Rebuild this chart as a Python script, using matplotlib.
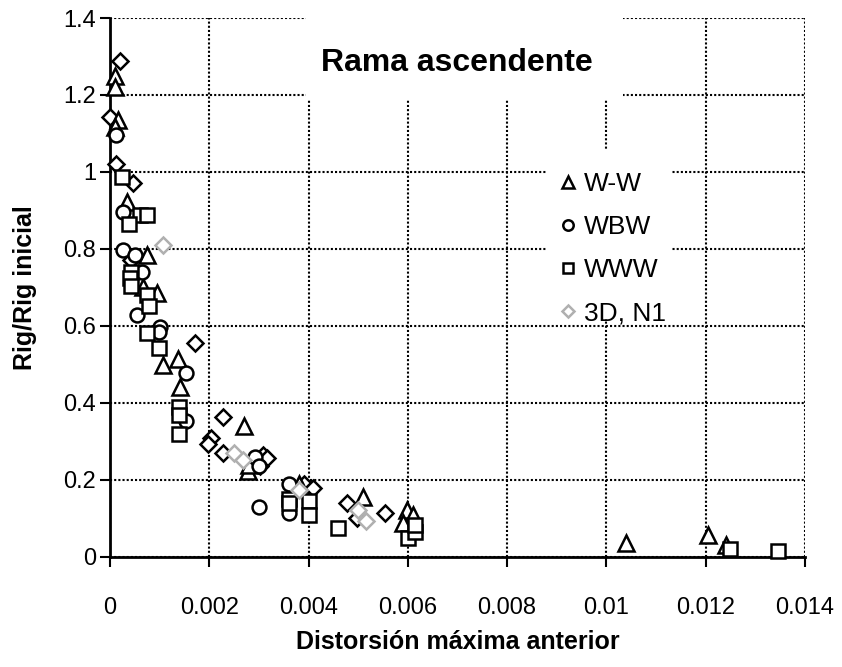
import numpy as np
import matplotlib
matplotlib.use('Agg')
import matplotlib.pyplot as plt
from matplotlib.patches import Rectangle
from matplotlib.ticker import FuncFormatter

plt.rcParams['font.family'] = ['Liberation Sans', 'DejaVu Sans']

# W-W (triangles)
ww_x = [0.0001, 0.0001, 0.00016, 0.0001, 0.00034, 0.00074, 0.00067, 0.00095, 0.00106,
        0.00138, 0.00142, 0.0027, 0.00279, 0.0028, 0.0038, 0.0051, 0.00598, 0.0061,
        0.0059, 0.0104, 0.01204, 0.0124]
ww_y = [1.25, 1.22, 1.135, 1.118, 0.923, 0.784, 0.702, 0.685, 0.499,
        0.513, 0.442, 0.34, 0.222, 0.24, 0.19, 0.157, 0.122, 0.109,
        0.089, 0.036, 0.057, 0.031]

# WBW (circles)
wbw_x = [0.00012, 0.00026, 0.00027, 0.0005, 0.00064, 0.00054, 0.001, 0.00099,
         0.00153, 0.00153, 0.00292, 0.003, 0.003, 0.0036, 0.0036]
wbw_y = [1.096, 0.897, 0.797, 0.784, 0.741, 0.629, 0.598, 0.585,
         0.477, 0.353, 0.26, 0.235, 0.13, 0.19, 0.115]

# WWW (squares)
www_x = [0.00025, 0.0006, 0.00074, 0.00039, 0.00042, 0.0004, 0.00042, 0.00074,
         0.00079, 0.00074, 0.00099, 0.0014, 0.0014, 0.0014, 0.0036, 0.0036,
         0.004, 0.004, 0.0046, 0.006, 0.00614, 0.00614, 0.0125, 0.01345]
www_y = [0.988, 0.888, 0.888, 0.865, 0.741, 0.725, 0.704, 0.681,
         0.652, 0.581, 0.542, 0.39, 0.37, 0.32, 0.15, 0.14,
         0.145, 0.11, 0.075, 0.049, 0.066, 0.083, 0.021, 0.016]

# 3D, N1 (light markers)
n1_x = [0.00107, 0.0025, 0.00268, 0.0038, 0.005, 0.00516]
n1_y = [0.81, 0.271, 0.252, 0.175, 0.122, 0.094]

# other series (diamonds, not in legend)
dia_x = [0.0002, 0.0, 0.00012, 0.00047, 0.00042, 0.00171, 0.00227, 0.00203,
         0.00198, 0.00227, 0.00309, 0.00317, 0.00302, 0.0039, 0.0041,
         0.00477, 0.00497, 0.00554]
dia_y = [1.289, 1.144, 1.021, 0.971, 0.771, 0.557, 0.364, 0.308,
         0.293, 0.271, 0.265, 0.256, 0.235, 0.19, 0.18,
         0.139, 0.1, 0.113]

fig = plt.figure(figsize=(8.42, 6.67), dpi=100)
ax = fig.add_axes([0.1306, 0.165, 0.8254, 0.808])

ax.set_xlim(0, 0.014)
ax.set_ylim(0, 1.4)
ax.set_xticks(np.arange(0, 0.0141, 0.002))
ax.set_yticks(np.arange(0, 1.41, 0.2))
ax.xaxis.set_major_formatter(FuncFormatter(lambda v, p: '%g' % round(v, 4)))
ax.yaxis.set_major_formatter(FuncFormatter(lambda v, p: '%g' % round(v, 2)))

ax.set_axisbelow(True)
ax.grid(True, color='black', linestyle=(0, (1, 1)), linewidth=1.5)
for s in ['top', 'right']:
    ax.spines[s].set_visible(False)
for s in ['left', 'bottom']:
    ax.spines[s].set_linewidth(2)
ax.tick_params(direction='out', length=7, width=1.5, labelsize=17)
ax.tick_params(axis='x', pad=22)
ax.tick_params(axis='y', pad=3)

# white boxes behind the title and the legend
ax.add_patch(Rectangle((0.2815, 0.85), 0.457, 0.15, transform=ax.transAxes,
                       facecolor='white', edgecolor='none', zorder=1))
ax.add_patch(Rectangle((0.629, 0.441), 0.18, 0.314, transform=ax.transAxes,
                       facecolor='white', edgecolor='none', zorder=1))
ax.text(0.00699, 1.283, 'Rama ascendente', fontsize=23, fontweight='bold',
        ha='center', va='center', zorder=3)

mk = dict(linestyle='none', markerfacecolor='white', markeredgewidth=1.8,
          clip_on=False, zorder=4)
ax.plot(dia_x, dia_y, marker='D', markersize=8, color='black', label='_nolegend_', **mk)
ax.plot(ww_x, ww_y, marker='^', markersize=11, color='black', label='W-W', **mk)
ax.plot(wbw_x, wbw_y, marker='o', markersize=10, color='black', label='WBW', **mk)
ax.plot(www_x, www_y, marker='s', markersize=10.5, color='black', label='WWW', **mk)
ax.plot(n1_x, n1_y, marker='D', markersize=8, color='#b0b0b0', label='3D, N1', **mk)

leg = ax.legend(loc='upper left', bbox_to_anchor=(0.629, 0.738), fontsize=19,
                frameon=False, labelspacing=0.72, handlelength=0.6,
                handletextpad=0.3, borderpad=0.5, borderaxespad=0,
                markerscale=0.75)
leg.set_zorder(5)

ax.set_xlabel('Distorsión máxima anterior', fontsize=18, fontweight='bold', labelpad=8)
ax.set_ylabel('Rig/Rig inicial', fontsize=18, fontweight='bold', labelpad=19)

fig.savefig('out.png', dpi=100)
